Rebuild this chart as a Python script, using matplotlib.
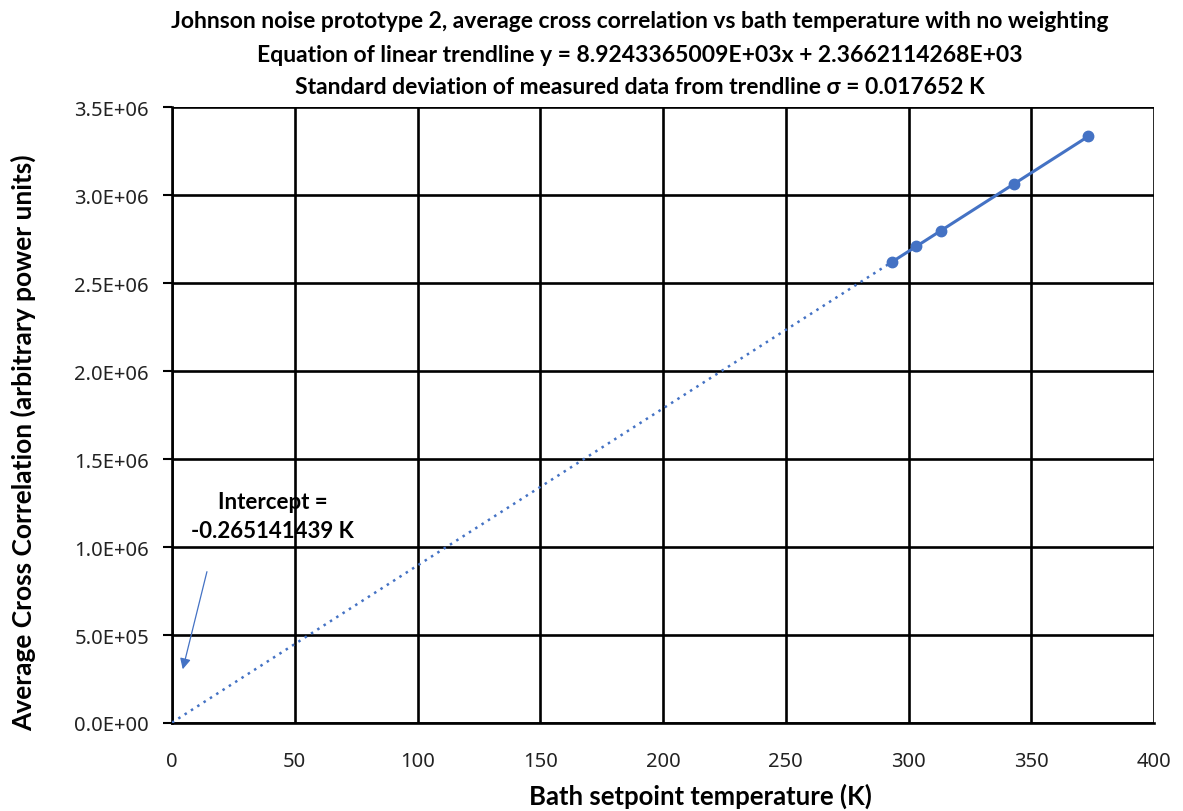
import numpy as np
import matplotlib
matplotlib.use('Agg')
import matplotlib.pyplot as plt

# bath setpoint temperatures (K) and measured average cross correlation
temp_k = [293.15, 303.15, 313.15, 343.15, 373.15]
cross_corr = [2618560, 2707750, 2797040, 3064730, 3332500]

title_lines = ['Johnson noise prototype 2, average cross correlation vs bath temperature with no weighting',
               'Equation of linear trendline y = 8.9243365009E+03x + 2.3662114268E+03',
               'Standard deviation of measured data from trendline \u03c3 = 0.017652 K']
intercept_text = 'Intercept =\n-0.265141439 K'

xticks = [0, 50, 100, 150, 200, 250, 300, 350, 400]
yticks = [0, 5e5, 1e6, 1.5e6, 2e6, 2.5e6, 3e6, 3.5e6]

blue = '#4472C4'
bold_font = ['Lato', 'DejaVu Sans']
tick_font = ['Noto Sans', 'DejaVu Sans']

fig = plt.figure(figsize=(11.83, 8.12), dpi=100)
ax = fig.add_axes([172/1183, 1-724/812, (1154-172)/1183, (724-108)/812])

# trendline, forecast backward to zero
coeff = np.polyfit(temp_k, cross_corr, 1)
x_fit = np.array([0, temp_k[0]])
ax.plot(x_fit, np.polyval(coeff, x_fit), color=blue, linestyle=(0, (1, 2)), linewidth=1.8, zorder=3)
ax.plot(temp_k, cross_corr, '-o', color=blue, linewidth=2.2, markersize=7.5, zorder=4)

ax.set_xlim(0, 400)
ax.set_ylim(0, 3.5e6)
ax.set_xticks(xticks)
ax.set_yticks(yticks)
ax.set_xticklabels([str(t) for t in xticks], family=tick_font)
ax.set_yticklabels(['%.1E' % t for t in yticks], family=tick_font)
ax.grid(True, color='black', linewidth=1.9)
for s in ['top', 'right']:
    ax.spines[s].set_visible(False)
for s in ['left', 'bottom']:
    ax.spines[s].set_linewidth(1.9)
ax.tick_params(axis='x', length=0, pad=20, labelsize=14.5, labelcolor='#222222')
ax.tick_params(axis='y', length=6.5, width=1.5, pad=10, labelsize=14.5, labelcolor='#222222')
ax.set_axisbelow(True)

ax.annotate('', xy=(4.1, 2.9e5), xytext=(14.5, 8.75e5),
            arrowprops=dict(arrowstyle='-|>', color=blue, linewidth=0.9, mutation_scale=16))
ax.text(41, 1.175e6, intercept_text, ha='center', va='center', fontsize=16,
        fontweight='bold', family=bold_font, linespacing=1.5)

for i, line in enumerate(title_lines):
    fig.text(640/1183, 1-(22+33*i)/812, line, ha='center', va='center', fontsize=16.5,
             fontweight='bold', family=bold_font)

fig.text(700/1183, 1-796/812, 'Bath setpoint temperature (K)', ha='center', va='center',
         fontsize=18.5, fontweight='bold', family=bold_font)
fig.text(23/1183, 1-443/812, 'Average Cross Correlation (arbitrary power units)', ha='center',
         va='center', rotation=90, fontsize=19, fontweight='bold', family=bold_font)

fig.savefig('out.png', dpi=100)
